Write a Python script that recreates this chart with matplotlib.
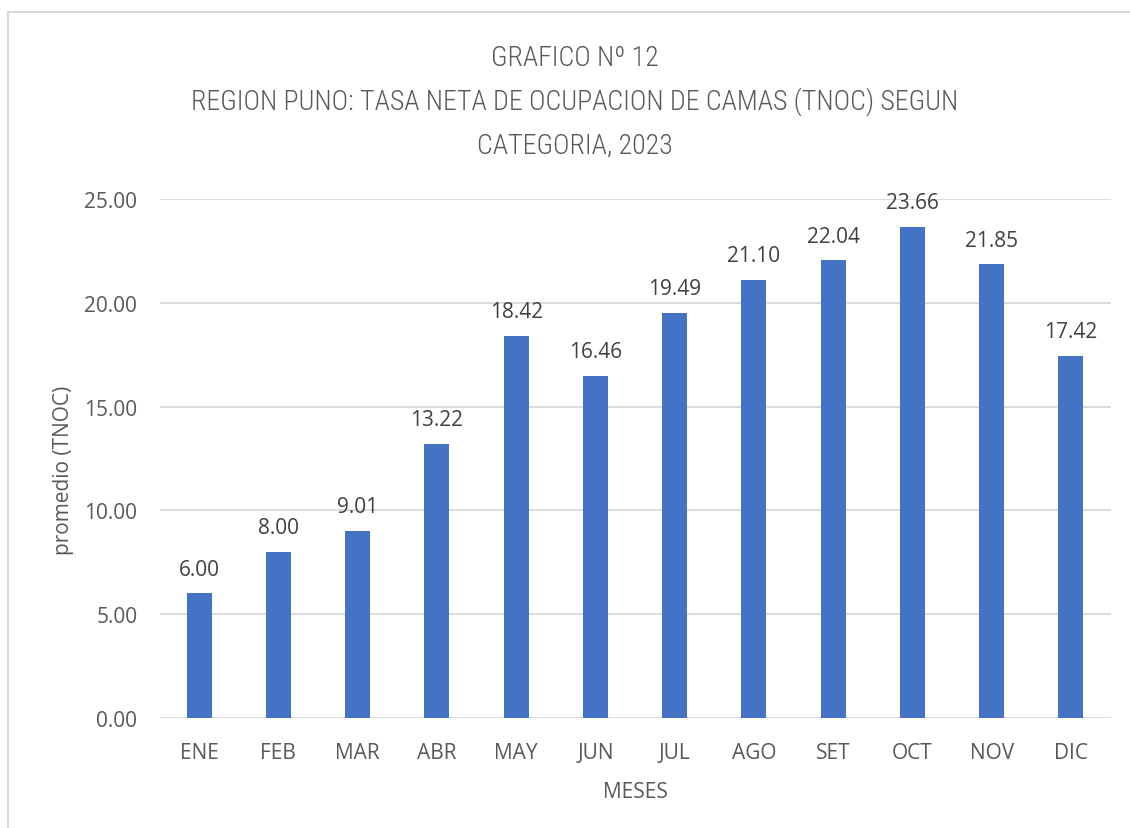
import matplotlib
matplotlib.use('Agg')
import matplotlib.pyplot as plt
from matplotlib import font_manager
from matplotlib.patches import Rectangle

# datos
meses = ['ENE', 'FEB', 'MAR', 'ABR', 'MAY', 'JUN', 'JUL', 'AGO', 'SET', 'OCT', 'NOV', 'DIC']
tnoc = [6.00, 8.00, 9.01, 13.22, 18.42, 16.46, 19.49, 21.10, 22.04, 23.66, 21.85, 17.42]
yticks = [0, 5, 10, 15, 20, 25]
titulo = ['GRAFICO Nº 12',
          'REGION PUNO: TASA NETA DE OCUPACION DE CAMAS (TNOC) SEGUN',
          'CATEGORIA, 2023']

W, H, dpi = 1130, 829, 100
bar_color = '#4472C4'
txt_gray = '#595959'
grid_gray = '#D9D9D9'

# fuente angosta para el titulo, si existe alguna
installed = {f.name for f in font_manager.fontManager.ttflist}
narrow = None
for nm in ['Roboto Condensed', 'Liberation Sans Narrow', 'Open Sans Condensed',
           'DejaVu Sans Condensed']:
    if nm in installed:
        narrow = nm
        break
if narrow is None:
    title_fp = dict(family='DejaVu Sans', stretch='condensed')
else:
    title_fp = dict(family=narrow, weight='light')

plt.rcParams['font.family'] = ['Open Sans', 'DejaVu Sans']

fig = plt.figure(figsize=(W / dpi, H / dpi), dpi=dpi)
ax = fig.add_axes([159.5 / W, 1 - 719 / H, 951 / W, 519 / H])

x = list(range(len(meses)))
bars = ax.bar(x, tnoc, width=0.315, color=bar_color, zorder=3)
ax.set_xlim(-0.5, len(meses) - 0.5)
ax.set_ylim(0, 25)
ax.set_yticks(yticks)
ax.set_yticklabels([f'{v:.2f}' for v in yticks])
ax.set_xticks(x)
ax.set_xticklabels(meses)
ax.tick_params(length=0, labelsize=15, colors=txt_gray)
ax.tick_params(axis='y', pad=16)
ax.tick_params(axis='x', pad=17)
ax.grid(axis='y', color=grid_gray, linewidth=1.3, zorder=0)
for s in ax.spines.values():
    s.set_visible(False)

for xi, v in zip(x, tnoc):
    ax.annotate(f'{v:.2f}', (xi, v), xytext=(0, 10), textcoords='offset points',
                ha='center', va='bottom', fontsize=15, color='#404040',
                annotation_clip=False)

ax.set_ylabel('promedio (TNOC)', fontsize=15, color=txt_gray)
ax.yaxis.set_label_coords(-0.090, 0.48)
ax.set_xlabel('MESES', fontsize=15, color=txt_gray)
ax.xaxis.set_label_coords(0.5, -0.121)

# titulo en tres lineas
ys = [58, 102, 146]
tt = []
for line, yy in zip(titulo, ys):
    t = fig.text(575 / W, 1 - yy / H, line, ha='center', va='center',
                 fontsize=20, color=txt_gray, **title_fp)
    tt.append(t)

# ajustar tamano para que la linea larga mida ~768 px
fig.canvas.draw()
r = fig.canvas.get_renderer()
w = tt[1].get_window_extent(r).width
fs = 20 * 768 / w
for t in tt:
    t.set_fontsize(fs)

# borde del area del grafico
fig.patches.append(Rectangle((8 / W, -0.1), 1.2, 1 - 13 / H + 0.1, transform=fig.transFigure,
                             fill=False, edgecolor=grid_gray, linewidth=1.5))

fig.savefig('out.png', dpi=dpi)
